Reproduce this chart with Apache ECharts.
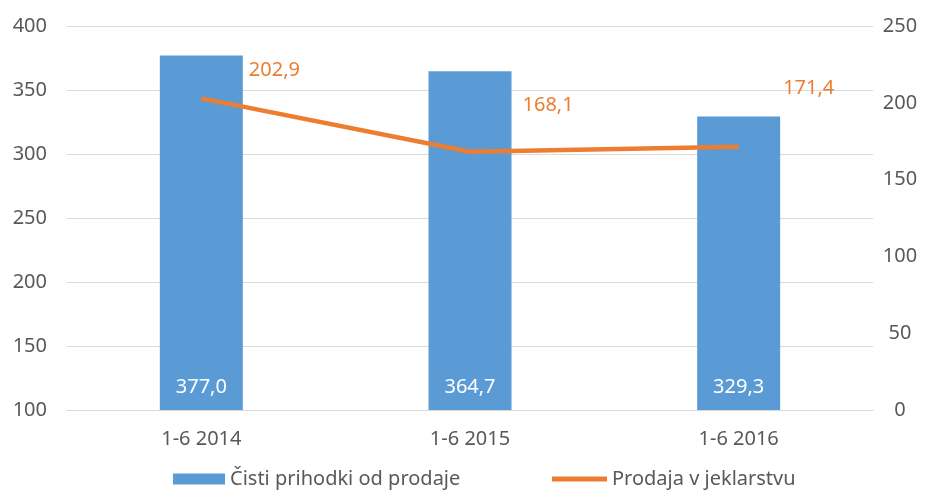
<!DOCTYPE html>
<html>
<head>
<meta charset="utf-8">
<script src="https://cdn.jsdelivr.net/npm/echarts@6/dist/echarts.min.js"></script>
<style>
  html, body { margin: 0; padding: 0; background: #fff; }
  #chart { width: 935px; height: 491px; }
</style>
</head>
<body>
<div id="chart"></div>
<script>
var categories = ["1-6 2014", "1-6 2015", "1-6 2016"];
var prihodki = [377.0, 364.7, 329.3];
var jeklarstvo = [202.9, 168.1, 171.4];
var seriesNames = ["Čisti prihodki od prodaje", "Prodaja v jeklarstvu"];

// rocno premaknjene oznake kot v originalu
var lineLabelOffsets = [[42, -28], [47, -47], [39, -58]];

function fmt(v) {
  return v.toFixed(1).replace(".", ",");
}

var chart = echarts.init(document.getElementById("chart"));
var font = "Noto Sans";
var option = {
  animation: false,
  textStyle: { fontFamily: font },
  grid: { left: 67, right: 62, top: 26, bottom: 81 },
  legend: [
    {
      left: 173, top: 469, padding: 0,
      itemWidth: 52, itemHeight: 11, itemGap: 6,
      textStyle: { fontSize: 20, color: "#595959", fontFamily: font },
      data: [{ name: seriesNames[0], icon: "rect" }]
    },
    {
      left: 552, top: 469, padding: 0,
      itemWidth: 55, itemHeight: 11, itemGap: 6,
      textStyle: { fontSize: 20, color: "#595959", fontFamily: font },
      data: [{ name: seriesNames[1], icon: "path://M0,0L55,0L55,5L0,5Z" }]
    }
  ],
  xAxis: {
    type: "category",
    data: categories,
    axisTick: { show: false },
    axisLine: { lineStyle: { color: "#D9D9D9", width: 1 } },
    axisLabel: { color: "#595959", fontSize: 20, margin: 19 }
  },
  yAxis: [
    {
      type: "value",
      min: 100, max: 400, interval: 50,
      axisLine: { show: false },
      axisTick: { show: false },
      axisLabel: { color: "#595959", fontSize: 20, margin: 20 },
      splitLine: { lineStyle: { color: "#D9D9D9" } }
    },
    {
      type: "value",
      min: 0, max: 250, interval: 50,
      axisLine: { show: false },
      axisTick: { show: false },
      axisLabel: { color: "#595959", fontSize: 20, margin: 27, align: "center" },
      splitLine: { show: false }
    }
  ],
  series: [
    {
      name: seriesNames[0],
      type: "bar",
      yAxisIndex: 0,
      barWidth: 83,
      itemStyle: { color: "#5B9BD5" },
      label: {
        show: true,
        position: "insideBottom",
        distance: 13,
        color: "#fff",
        fontSize: 20,
        formatter: function (p) { return fmt(p.value); }
      },
      data: prihodki
    },
    {
      name: seriesNames[1],
      type: "line",
      yAxisIndex: 1,
      symbol: "circle",
      symbolSize: 1,
      lineStyle: { color: "#ED7D31", width: 4.5 },
      itemStyle: { color: "#ED7D31" },
      data: jeklarstvo.map(function (v, i) {
        return {
          value: v,
          label: {
            show: true,
            position: "right",
            offset: lineLabelOffsets[i],
            color: "#ED7D31",
            fontSize: 20,
            formatter: function (p) { return fmt(p.value); }
          }
        };
      })
    }
  ]
};
chart.setOption(option);
</script>
</body>
</html>
